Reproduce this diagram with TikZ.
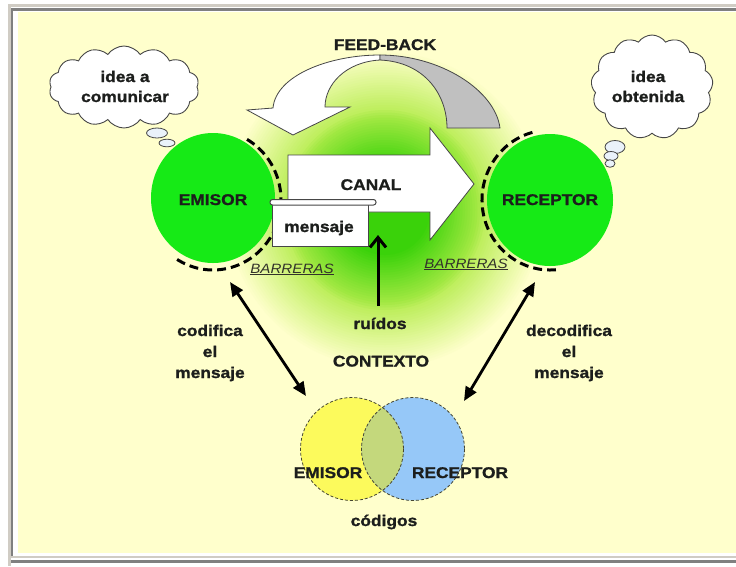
\documentclass[tikz,border=0pt]{standalone}
\usepackage{fontspec}
\setmainfont[FakeStretch=1.12, BoldFeatures={FakeBold=1.2}]{Liberation Sans}
\usetikzlibrary{arrows.meta,shapes.symbols,shapes.geometric}
\definecolor{bgy}{RGB}{255,255,204}
\definecolor{glowc}{RGB}{58,210,10}
\definecolor{glowm}{RGB}{180,236,76}
\definecolor{grn}{RGB}{22,234,22}
\definecolor{fbgray}{RGB}{192,192,192}
\definecolor{fbline}{RGB}{70,70,70}
\definecolor{vy}{RGB}{252,250,92}
\definecolor{vb}{RGB}{150,200,248}
\definecolor{vo}{RGB}{196,216,124}
\definecolor{vline}{RGB}{70,70,50}
\definecolor{txt}{RGB}{28,30,28}
\definecolor{bartxt}{RGB}{50,50,42}
\definecolor{lgray}{RGB}{208,204,196}
\definecolor{dgray}{RGB}{128,128,128}
\definecolor{bubble}{RGB}{234,242,250}
\tikzset{
  lbl/.style={font=\fontsize{15.5}{18}\selectfont\bfseries, text=txt, inner sep=0pt, anchor=base},
  bar/.style={font=\fontsize{13.5}{16}\selectfont\itshape, text=bartxt, inner sep=0pt, anchor=base},
  cloudbox/.style={cloud, cloud ignores aspect, draw=fbline, fill=white, line width=0.9pt, inner sep=0pt},
  bub/.style={draw=fbline, fill=bubble, line width=0.8pt},
  actor/.style={ellipse, fill=grn, inner sep=0pt},
  barrier/.style={draw=black, line width=3pt, dash pattern=on 9pt off 5pt},
  dbl/.style={line width=2.8pt, {Triangle[length=14pt,width=12pt]}-{Triangle[length=14pt,width=12pt]}},
  vcirc/.style={draw=vline, line width=0.8pt, densely dashed}
}
\begin{document}
\begin{tikzpicture}[x=1pt,y=-1pt]
\useasboundingbox (0,0) rectangle (736,566);
% frame
\fill[white] (0,0) rectangle (736,566);
\fill[lgray] (8,4) rectangle (736,6.5);
\fill[lgray] (8,4) rectangle (10.5,566);
\fill[dgray] (10.5,8) rectangle (736,10.5);
\fill[dgray] (10.5,8) rectangle (13,558);
\fill[bgy] (18,12) rectangle (736,553);
\fill[lgray] (8,555.5) rectangle (736,558);
\fill[dgray] (10.5,559.5) rectangle (736,562.5);
% glow (concentric discs)
\foreach \i in {0,...,63} {
  \pgfmathsetmacro\t{1-\i/64}
  \pgfmathsetmacro\r{160*\t}
  \pgfmathsetmacro\pa{min(100,max(0,100*(1-\t)/0.42))}
  \pgfmathsetmacro\pb{min(100,max(0,100*(0.64-\t)/0.36))}
  \colorlet{tmpc}{glowm!\pa!bgy}
  \fill[glowc!\pb!tmpc] (385,210) circle (\r);
}
% feedback arrow
\filldraw[fill=white, draw=fbline, line width=0.8pt]
  (273,108) .. controls (276,75) and (330,55) .. (380,55) -- (380,60)
  .. controls (345,62) and (325,85) .. (325,107) -- (350,107) -- (293,135) -- (247,110) -- cycle;
\filldraw[fill=fbgray, draw=fbline, line width=0.8pt]
  (380,55) .. controls (440,55) and (495,90) .. (500,128) -- (447,128)
  .. controls (447,95) and (425,62) .. (380,60) -- cycle;
% clouds
\node[cloudbox, cloud puffs=14, cloud puff arc=110, minimum width=150pt, minimum height=82pt] (cl1) at (124,87) {};
\node[cloudbox, cloud puffs=13, cloud puff arc=110, minimum width=122pt, minimum height=104pt] (cl2) at (652,87) {};
\filldraw[bub] (157,133) ellipse (10.5 and 5);
\filldraw[bub] (167,143) ellipse (8 and 3.8);
\filldraw[bub] (615,147) ellipse (10 and 6.5);
\filldraw[bub] (611,156) ellipse (7 and 4.5);
\filldraw[bub] (610,163.5) ellipse (5 and 3.8);
% actors
\node[actor, minimum width=124pt, minimum height=130pt] (emisor) at (213,198) {};
\node[actor, minimum width=126pt, minimum height=132pt] (receptor) at (550,200) {};
\draw[barrier] (213,200) ++(-60:68 and 70) arc[start angle=-60, end angle=125, x radius=68, y radius=70];
\draw[barrier] (550,200) ++(-105:68 and 70) arc[start angle=-105, end angle=-275, x radius=68, y radius=70];
% canal arrow
\filldraw[fill=white, draw=fbline, line width=0.8pt]
  (288,155) -- (430,155) -- (430,128) -- (474,184) -- (430,240) -- (430,212) -- (288,212) -- cycle;
% mensaje scroll
\filldraw[fill=white, draw=fbline, line width=1pt] (272,204) rectangle (368,246);
\filldraw[fill=white, draw=fbline, line width=1pt, rounded corners=2.5pt] (270,199.5) rectangle (376,205);
% venn
\fill[vy] (352,449) circle (51.5);
\fill[vb] (413,449) circle (51.5);
\begin{scope}
  \clip (352,449) circle (51.5);
  \fill[vo] (413,449) circle (51.5);
\end{scope}
\draw[vcirc] (352,449) circle (51.5);
\draw[vcirc] (413,449) circle (51.5);
% connectors
\coordinate (c1) at (230,282);
\coordinate (c2) at (306,396);
\coordinate (d1) at (535,282);
\coordinate (d2) at (464,401);
\coordinate (r1) at (378,306);
\coordinate (r2) at (378,235);
\draw[dbl] (c1) -- (c2);
\draw[dbl] (d1) -- (d2);
\draw[line width=3pt, -{Straight Barb[length=10pt,width=16pt]}] (r1) -- (r2);
% texts
\node[lbl] (fb) at (385,50) {FEED-BACK};
\node[lbl] (ia1) at (125,82) {idea a};
\node[lbl] (ia2) at (125,102) {comunicar};
\node[lbl] (io1) at (648,82) {idea};
\node[lbl] (io2) at (648,102) {obtenida};
\node[lbl] (emT) at (213,205) {EMISOR};
\node[lbl] (reT) at (550,205) {RECEPTOR};
\node[lbl] (canal) at (371,190) {CANAL};
\node[lbl] (mens) at (319,232) {mensaje};
\node[bar] (bar1) at (292,273) {\underline{BARRERAS}};
\node[bar] (bar2) at (466,268) {\underline{BARRERAS}};
\node[lbl] (ruid) at (380,329) {ruídos};
\node[lbl] (ctx) at (381,366.5) {CONTEXTO};
\node[lbl] (cod1) at (210,336) {codifica};
\node[lbl] (cod2) at (210,357) {el};
\node[lbl] (cod3) at (210,378) {mensaje};
\node[lbl] (dec1) at (569,336) {decodifica};
\node[lbl] (dec2) at (569,357) {el};
\node[lbl] (dec3) at (569,378) {mensaje};
\node[lbl] (vE) at (328,478) {EMISOR};
\node[lbl] (vR) at (460,478) {RECEPTOR};
\node[lbl] (cods) at (384,526) {códigos};
\end{tikzpicture}
\end{document}
